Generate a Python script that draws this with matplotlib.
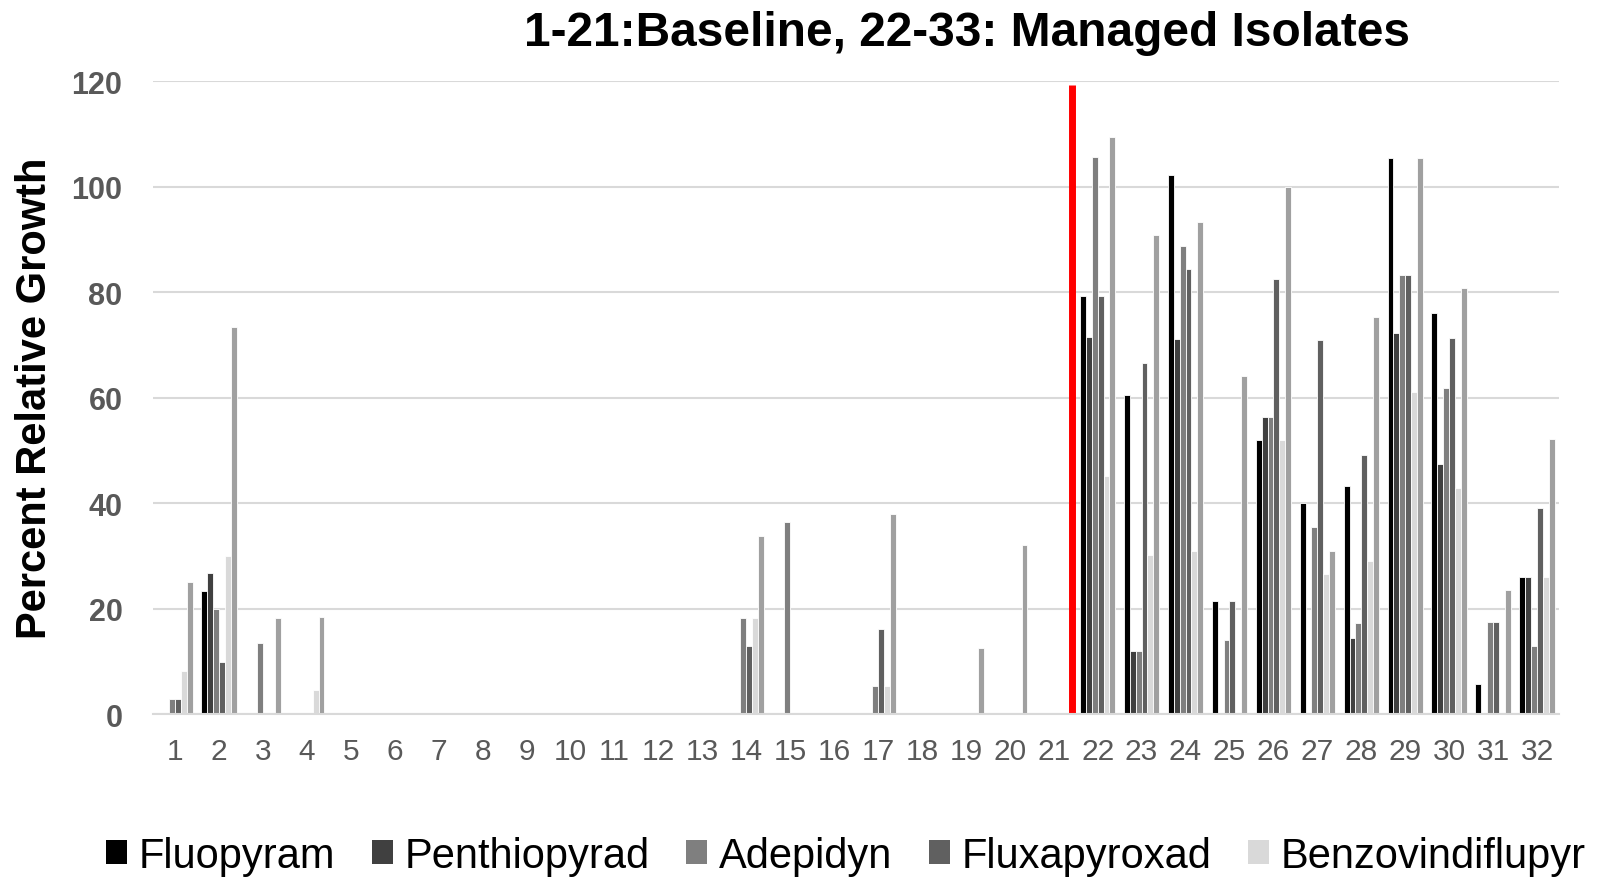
import numpy as np
import matplotlib
matplotlib.use("Agg")
import matplotlib.pyplot as plt
from matplotlib.patches import Patch

plt.rcParams['font.family'] = ['Liberation Sans', 'DejaVu Sans']

categories = [str(i) for i in range(1, 33)]

fluopyram = [0, 23.3, 0, 0, 0, 0, 0, 0, 0, 0, 0, 0, 0, 0, 0, 0, 0, 0, 0, 0, 0,
             79.2, 60.5, 102.1, 21.4, 52.0, 40.0, 43.3, 105.5, 76.0, 5.8, 26.0]
penthiopyrad = [0, 26.7, 0, 0, 0, 0, 0, 0, 0, 0, 0, 0, 0, 0, 0, 0, 0, 0, 0, 0, 0,
                71.5, 12.0, 71.1, 0, 56.4, 0, 14.4, 72.2, 47.5, 0, 26.0]
adepidyn = [2.9, 20.0, 13.6, 0, 0, 0, 0, 0, 0, 0, 0, 0, 0, 18.2, 36.4, 0, 5.4, 0, 0, 0, 0,
            105.6, 12.0, 88.8, 14.1, 56.4, 35.5, 17.4, 83.3, 61.8, 17.5, 13.0]
fluxapyroxad = [2.9, 10.0, 0, 0, 0, 0, 0, 0, 0, 0, 0, 0, 0, 13.0, 0, 0, 16.2, 0, 0, 0, 0,
                79.2, 66.6, 84.4, 21.4, 82.5, 71.0, 49.2, 83.3, 71.4, 17.5, 39.1]
benzovindiflupyr = [8.3, 30.0, 0, 4.6, 0, 0, 0, 0, 0, 0, 0, 0, 0, 18.2, 0, 0, 5.4, 0, 0, 0, 0,
                    45.2, 30.2, 31.0, 0, 52.0, 26.6, 29.0, 61.0, 42.8, 0, 26.0]
sixth_series = [25.0, 73.3, 18.2, 18.5, 0, 0, 0, 0, 0, 0, 0, 0, 0, 33.8, 0, 0, 37.9, 0, 12.5, 32.0, 0,
                109.4, 90.9, 93.2, 64.2, 100.0, 31.0, 75.2, 105.5, 80.8, 23.5, 52.1]

series_names = ["Fluopyram", "Penthiopyrad", "Adepidyn", "Fluxapyroxad", "Benzovindiflupyr", ""]
series = [fluopyram, penthiopyrad, adepidyn, fluxapyroxad, benzovindiflupyr, sixth_series]
colors = ["#000000", "#404040", "#7f7f7f", "#606060", "#d9d9d9", "#a0a0a0"]

title = "1-21:Baseline, 22-33: Managed Isolates"
ylabel = "Percent Relative Growth"
yticks = [0, 20, 40, 60, 80, 100, 120]
divider_x = 20.41
divider_top = 119.3

fig = plt.figure(figsize=(16, 8.78), dpi=100)
ax = fig.add_axes([153/1600, 1-715.4/878, (1559-153)/1600, (715.4-82)/878])

x = np.arange(len(categories))
pitch = 0.134
n = len(series)
for k, (vals, col) in enumerate(zip(series, colors)):
    off = (k - (n-1)/2) * pitch
    ax.bar(x + off, vals, width=pitch, color=col, edgecolor='white', linewidth=0.6, zorder=3)

ax.plot([divider_x, divider_x], [0, divider_top], color='#ff0000', linewidth=5, zorder=4,
        solid_capstyle='butt')

ax.set_xlim(-0.5, len(categories)-0.5)
ax.set_ylim(0, 120)
ax.set_yticks(yticks)
ax.set_yticklabels([str(v) for v in yticks], fontsize=22, fontweight='bold', color='#595959')
ax.set_xticks(x)
ax.set_xticklabels(categories, fontsize=21.5, color='#595959')
ax.tick_params(axis='both', length=0)
ax.tick_params(axis='y', pad=22)
ax.tick_params(axis='x', pad=16)
ax.grid(axis='y', color='#d9d9d9', linewidth=1.5, zorder=0)
for s in ['top', 'right', 'left']:
    ax.spines[s].set_visible(False)
ax.spines['bottom'].set_color('#d9d9d9')
ax.spines['bottom'].set_linewidth(1.5)
ax.spines['bottom'].set_zorder(5)

ax.set_ylabel(ylabel, fontsize=30, fontweight='bold', color='black')
ax.yaxis.set_label_coords((55-153)/(1559-153), 0.5)

fig.text(967/1600, 1-33/878, title, fontsize=34.5, fontweight='bold', ha='center', va='center')

handles = [Patch(facecolor=c, edgecolor='none') for c in colors[:5]]
fig.legend(handles, series_names[:5], loc='center', bbox_to_anchor=(846/1600, 1-857/878),
           ncol=5, frameon=False, fontsize=30, handlelength=0.5, handleheight=0.5,
           handletextpad=0.28, columnspacing=0.88, borderaxespad=0, borderpad=0)

fig.savefig("out.png", dpi=100)
